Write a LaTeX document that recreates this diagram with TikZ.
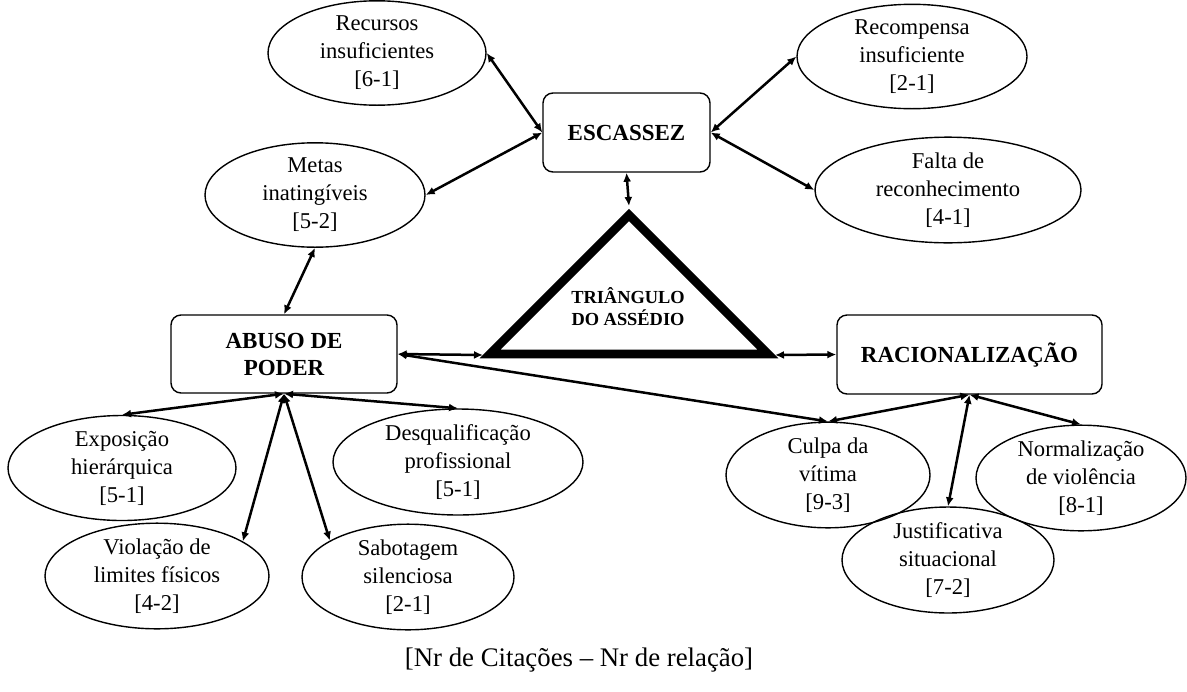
\documentclass[tikz,border=0pt]{standalone}
\usepackage{fontspec}
\setmainfont{Liberation Serif}
\usepackage{tikz}
\usetikzlibrary{shapes.geometric,arrows.meta}
\tikzset{
block/.style={
  draw, 
  rectangle, 
  rounded corners=5pt,
  line width=0.7pt,
  align=center,
  font=\bfseries\fontsize{11.5}{13.5}\selectfont
  }, 
oval/.style={
  draw, 
  ellipse, 
  inner sep=0pt,
  line width=0.7pt,
  align=center,
  font=\fontsize{11.3}{14}\selectfont
  }, 
line/.style={<->,>={Latex[length=4.5pt,width=4pt]}, line width=1.25pt}
}

\begin{document}
\begin{tikzpicture}[x=0.5pt,y=-0.5pt]
\useasboundingbox (0,0) rectangle (1187,691);
\node[block, minimum width=83.5pt, minimum height=39.5pt](esc) at (626.5,132.5){ESCASSEZ};
\node[block, minimum width=113pt, minimum height=39pt](abu) at (284,354){ABUSO DE\\PODER};
\node[block, minimum width=132.5pt, minimum height=39.5pt](rac) at (969.5,354.5){RACIONALIZAÇÃO};
\node[oval, minimum width=109pt, minimum height=44pt](rec) at (377,53){Recursos\\insuficientes\\{}[6-1]};
\node[oval, minimum width=115pt, minimum height=43.5pt](rcp) at (912,56.5){Recompensa\\insuficiente\\{}[2-1]};
\node[oval, minimum width=133pt, minimum height=43pt](fal) at (948,190){Falta de\\reconhecimento\\{}[4-1]};
\node[oval, minimum width=110pt, minimum height=43pt](met) at (315,195){Metas\\inatingíveis\\{}[5-2]};
\node[oval, minimum width=114pt, minimum height=45pt](exp) at (122,468){Exposição\\hierárquica\\{}[5-1]};
\node[oval, minimum width=125pt, minimum height=45pt](des) at (458,462){Desqualificação\\profissional\\{}[5-1]};
\node[oval, minimum width=112pt, minimum height=44pt](vio) at (157,576){Violação de\\limites físicos\\{}[4-2]};
\node[oval, minimum width=106pt, minimum height=44pt](sab) at (408,577){Sabotagem\\silenciosa\\{}[2-1]};
\node[oval, minimum width=102pt, minimum height=44pt](cul) at (828,475){Culpa da\\vítima\\{}[9-3]};
\node[oval, minimum width=106pt, minimum height=44pt](jus) at (948,560){Justificativa\\situacional\\{}[7-2]};
\node[oval, minimum width=105pt, minimum height=44pt](nor) at (1081,478){Normalização\\de violência\\{}[8-1]};
% triangle
\coordinate (tipT) at (629,206);
\coordinate (tipL) at (483,355);
\coordinate (tipR) at (775,355);
\draw[line width=4.3pt, line join=miter] (629,215) -- (490,354) -- (768,354) -- cycle;
\node[align=center, font=\bfseries\fontsize{9.2}{11}\selectfont](tri) at (628,307){TRIÂNGULO\\DO ASSÉDIO};
\node[font=\fontsize{13.4}{16}\selectfont](leg) at (579,660){[Nr de Citações -- Nr de relação]};
\draw[line] (rec.east) -- (esc.west);
\draw[line] (met.east) -- (esc.west);
\draw[line] (rcp.west) -- (esc.east);
\draw[line] (fal.west) -- (esc.east);
\draw[line] (esc.south) -- (tipT);
\draw[line] (met.south) -- (abu.north);
\draw[line] (abu.east) -- (tipL);
\draw[line] (tipR) -- (rac.west);
\draw[line] (abu.east) -- (cul.north);
\draw[line] (abu.south) -- (exp.north);
\draw[line] (abu.south) -- (des.north);
\draw[line] (abu.south) -- (vio.22);
\draw[line] (abu.south) -- (sab.155);
\draw[line] (rac.south) -- (cul.north);
\draw[line] (rac.south) -- (jus.north);
\draw[line] (rac.south) -- (nor.north);
\end{tikzpicture}
\end{document}
